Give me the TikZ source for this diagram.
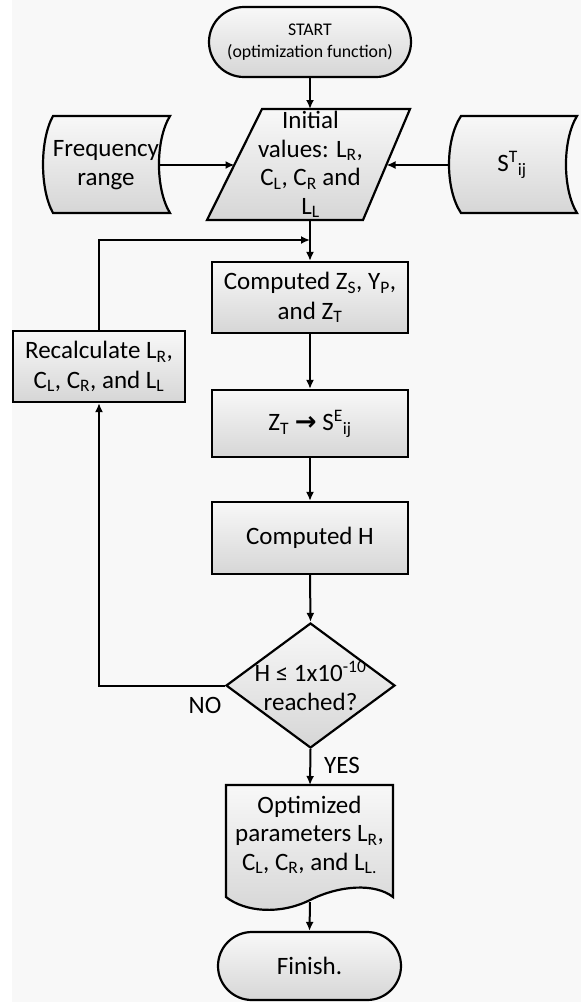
\documentclass[tikz,border=0pt]{standalone}
\usepackage{fontspec}
\setmainfont{Carlito}
\newfontfamily\djv{DejaVu Sans}
\usetikzlibrary{shapes.geometric,shapes.misc,arrows.meta}
\definecolor{bgc}{RGB}{248,248,248}
\definecolor{gtop}{RGB}{248,248,248}
\definecolor{gbot}{RGB}{214,214,214}
\tikzset{
  ln/.style={line width=2.2pt, draw=black},
  grad/.style={top color=gtop, bottom color=gbot},
  box/.style={ln, grad, rectangle, align=center, inner sep=2pt, font=\fontsize{25}{29.5}\selectfont},
  term/.style={ln, grad, rounded rectangle, align=center, inner sep=2pt},
  txt/.style={align=center, inner sep=0pt, font=\fontsize{25}{28.5}\selectfont},
  arr/.style={line width=2pt, -{Latex[length=9pt,width=8pt]}},
  lbl/.style={inner sep=0pt, font=\fontsize{25}{28}\selectfont}
}
\begin{document}
\begin{tikzpicture}[x=1pt,y=-1pt]
\useasboundingbox (0,0) rectangle (581,1002);
\fill[bgc] (0,0) rectangle (581,1002);
\fill[white] (0,0) rectangle (12,1002);

% START
\node[term, minimum width=206pt, minimum height=70pt, font=\fontsize{17.8}{22.5}\selectfont] (start) at (310,42) {START\\(optimization function)};

% Initial values parallelogram
\draw[ln, grad] (262,109) -- (410,109) -- (363,220) -- (207,220) -- cycle;
\node[txt] (init) at (310.5,164.5) {Initial\\values: L\textsubscript{R},\\C\textsubscript{L}, C\textsubscript{R} and\\L\textsubscript{L}};
\coordinate (initT) at (310,109);
\coordinate (initB) at (310,220);
\coordinate (initL) at (234.5,165);
\coordinate (initR) at (386.5,165);

% Frequency range (stored data)
\draw[ln, grad] (53,116) -- (170,116) .. controls (155.3,140) and (155.3,189) .. (170,213) -- (53,213) .. controls (39.7,189) and (39.7,140) .. (53,116) -- cycle;
\node[txt] (freq) at (106,165) {Frequency\\range};
\coordinate (freqR) at (159,165);

% S^T_ij (stored data)
\draw[ln, grad] (461,116) -- (577,116) .. controls (562.3,140) and (562.3,189) .. (577,213) -- (461,213) .. controls (445,189) and (445,140) .. (461,116) -- cycle;
\node[txt] (stij) at (512,165) {S\textsuperscript{T}\textsubscript{ij}};
\coordinate (stijL) at (449,165);

% process boxes
\node[box, minimum width=196pt, minimum height=71pt] (comp) at (310,297.5) {Computed Z\textsubscript{S}, Y\textsubscript{P},\\and Z\textsubscript{T}};
\node[box, minimum width=196pt, minimum height=67pt] (zt) at (310,423.5) {Z\textsubscript{T} {\djv\bfseries\fontsize{26}{28}\selectfont →} S\textsuperscript{E}\textsubscript{ij}};
\node[box, minimum width=196pt, minimum height=72pt] (hbox) at (310,538) {Computed H};
\node[box, minimum width=172pt, minimum height=71pt] (recalc) at (99,366.5) {Recalculate L\textsubscript{R},\\C\textsubscript{L}, C\textsubscript{R}, and L\textsubscript{L}};

% decision
\node[ln, grad, diamond, minimum width=169pt, minimum height=125pt, inner sep=0pt, aspect=1.35] (dec) at (310.5,685.5) {};
\node[txt] (dectext) at (310.5,686) {H ≤ 1x10\textsuperscript{-10}\\reached?};

% document
\draw[ln, grad] (226,785) -- (393,785) -- (393,897) .. controls (375,883) and (340,885) .. (310,900) .. controls (280,915) and (245,912) .. (226,897) -- cycle;
\node[txt] (doc) at (309.5,835) {Optimized\\parameters L\textsubscript{R},\\C\textsubscript{L}, C\textsubscript{R}, and L\textsubscript{L.}};
\coordinate (docT) at (310,785);
\coordinate (docB) at (310,902);

% finish
\node[term, minimum width=187pt, minimum height=68pt, font=\fontsize{25}{28}\selectfont] (finish) at (309.5,966) {Finish.};

% connectors
\coordinate (merge) at (310,240);
\draw[arr] (start.south) -- (initT);
\draw[arr] (freqR) -- (initL);
\draw[arr] (stijL) -- (initR);
\draw[arr] (initB) -- (comp.north);
\draw[arr] (recalc.north) |- (merge);
\draw[arr] (comp.south) -- (zt.north);
\draw[arr] (zt.south) -- (hbox.north);
\draw[arr] (hbox.south) -- (dec.north);
\draw[arr] (dec.south) -- (docT);
\draw[arr] (docB) -- (finish.north);
\draw[arr] (dec.west) -| (recalc.south);

% labels
\node[lbl] (no) at (205,705) {NO};
\node[lbl] (yes) at (342,765) {YES};
\end{tikzpicture}
\end{document}
